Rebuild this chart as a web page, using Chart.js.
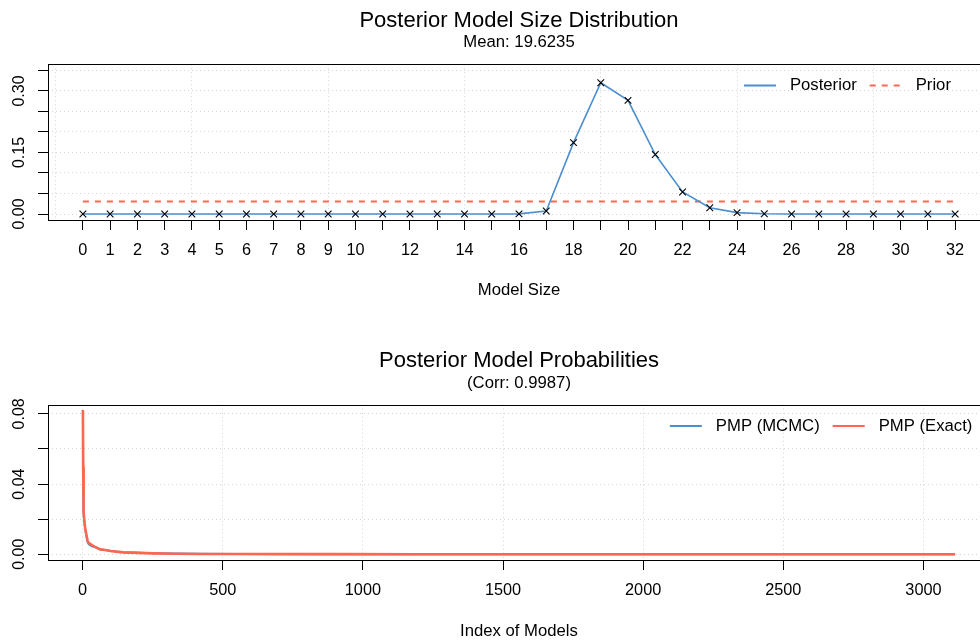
<!DOCTYPE html>
<html><head><meta charset="utf-8">
<script src="https://cdn.jsdelivr.net/npm/chart.js@4"></script>
<style>
html,body{margin:0;padding:0;background:#fff;overflow:hidden;width:980px;height:641px;}
#c1{position:absolute;left:0;top:0;}
#c2{position:absolute;left:0;top:320px;}
</style></head><body>
<canvas id="c1" width="1000" height="320"></canvas>
<canvas id="c2" width="1000" height="321"></canvas>
<script>
// ---------- data: model size distribution ----------
const modelSizes = [0,1,2,3,4,5,6,7,8,9,10,11,12,13,14,15,16,17,18,19,20,21,22,23,24,25,26,27,28,29,30,31,32];
const posteriorSize = [0,0,0,0,0,0,0,0,0,0,0,0,0,0,0,0,0.0003,0.0073,0.174,0.320,0.277,0.145,0.0537,0.0154,0.0033,0.0007,0.0001,0,0,0,0,0,0];
const priorSize = [0.0303,0.0303,0.0303,0.0303,0.0303,0.0303,0.0303,0.0303,0.0303,0.0303,0.0303,0.0303,0.0303,0.0303,0.0303,0.0303,0.0303,0.0303,0.0303,0.0303,0.0303,0.0303,0.0303,0.0303,0.0303,0.0303,0.0303,0.0303,0.0303,0.0303,0.0303,0.0303,0.0303];
const sizeTickLabels = ['0','1','2','3','4','5','6','7','8','9','10','','12','','14','','16','','18','','20','','22','','24','','26','','28','','30','','32'];
const sizeGridAt = [-1,4,9,14,19,24,29];
const sizeYTicks = [0,0.05,0.10,0.15,0.20,0.25,0.30,0.35];
const sizeYTickLabels = ['0.00','','','0.15','','','0.30',''];

// ---------- data: posterior model probabilities ----------
const modelIndex = [1,2,3,4,6,9,13,18,22,33,45,63,80,99,120,146,200,252,330,418,550,700,900,1200,1600,2000,2500,3113];
const pmpMcmc  = [0.0815,0.049,0.031,0.023,0.019,0.0145,0.0108,0.0068,0.0057,0.0046,0.0040,0.0027,0.0025,0.0020,0.0016,0.0012,0.0009,0.0006,0.0004,0.0003,0.0002,0.00012,0.00008,0.00005,0.00003,0.00002,0.00001,0.00001];
const pmpExact = [0.0822,0.050,0.032,0.024,0.0195,0.015,0.0115,0.0075,0.0065,0.0052,0.0042,0.0028,0.0024,0.0019,0.0015,0.0011,0.0008,0.0005,0.0003,0.0002,0.00015,0.0001,0.00007,0.00005,0.00003,0.00002,0.00001,0.00001];
const indexTicks = [0,500,1000,1500,2000,2500,3000];
const indexTickLabels = ['0','500','1000','1500','2000','2500','3000'];
const pmpYTicks = [0,0.02,0.04,0.06,0.08];
const pmpYTickLabels = ['0.00','','0.04','','0.08'];

const BLUE = '#4B8FD0';
const RED = '#FF6650';
const GRID = '#D3D3D3';

Chart.defaults.font.family = '"Liberation Sans", Arial, sans-serif';
Chart.defaults.color = '#000';

const boxPlugin = {
  id: 'rbox',
  afterDatasetsDraw(chart) {
    const {ctx, chartArea: a} = chart;
    ctx.save();
    ctx.strokeStyle = '#000';
    ctx.lineWidth = 1;
    ctx.setLineDash([]);
    const l = Math.round(a.left) + 0.5, t = Math.round(a.top) + 0.5;
    ctx.strokeRect(l, t, Math.round(a.right) - Math.round(a.left), Math.round(a.bottom) - Math.round(a.top));
    ctx.restore();
  }
};

const legendPlugin = {
  id: 'rlegend',
  afterDraw(chart, args, o) {
    const {ctx, chartArea: a} = chart;
    const ds = chart.data.datasets;
    ctx.save();
    ctx.font = o.font;
    const col = Math.max(...ds.map(d => ctx.measureText(d.label).width));
    const itemW = o.lineLen + o.gap + col;
    const total = ds.length * itemW + (ds.length - 1) * o.spacing;
    let x = a.right - o.rightInset - total;
    const y = a.top + o.dy;
    ds.forEach(d => {
      ctx.beginPath();
      ctx.strokeStyle = d.borderColor;
      ctx.lineWidth = o.lineWidth;
      ctx.setLineDash(d.borderDash || []);
      ctx.moveTo(x, y);
      ctx.lineTo(x + o.lineLen, y);
      ctx.stroke();
      ctx.setLineDash([]);
      ctx.fillStyle = '#000';
      ctx.textBaseline = 'middle';
      ctx.textAlign = 'left';
      ctx.fillText(d.label, x + o.lineLen + o.gap, y);
      x += itemW + o.spacing;
    });
    ctx.restore();
  }
};

const legendOpts = {font: '16.7px "Liberation Sans", Arial, sans-serif', lineLen: 32, gap: 14, spacing: 13, rightInset: 7.5, dy: 21.2, lineWidth: 2};

// ---------- top chart ----------
new Chart(document.getElementById('c1'), {
  type: 'line',
  data: {
    datasets: [
      {
        label: 'Posterior',
        data: modelSizes.map((s, i) => ({x: s, y: posteriorSize[i]})),
        borderColor: BLUE, backgroundColor: BLUE, borderWidth: 1.6,
        pointStyle: 'crossRot', pointRadius: 4.7, pointBorderColor: '#000', pointBackgroundColor: '#000', pointBorderWidth: 1.1,
        tension: 0, xAxisID: 'x', yAxisID: 'y'
      },
      {
        label: 'Prior',
        data: modelSizes.map((s, i) => ({x: s, y: priorSize[i]})),
        borderColor: RED, backgroundColor: RED, borderWidth: 2, borderDash: [6, 6],
        pointRadius: 0, tension: 0, xAxisID: 'x', yAxisID: 'y'
      }
    ]
  },
  options: {
    responsive: false, animation: false, devicePixelRatio: 1,
    layout: {padding: {left: 0, right: 10, top: 0, bottom: 0}, autoPadding: false},
    plugins: {
      legend: {display: false}, tooltip: {enabled: false},
      title: {display: true, text: 'Posterior Model Size Distribution', fullSize: false, color: '#000',
        font: {size: 22, weight: 'normal', lineHeight: 1}, padding: {top: 9.8, bottom: 2}},
      subtitle: {display: true, text: 'Mean: 19.6235', fullSize: false, color: '#000',
        font: {size: 16.7, lineHeight: 1}, padding: {top: 0, bottom: 13.8}},
      rlegend: legendOpts
    },
    scales: {
      x: {
        type: 'linear', position: 'bottom', min: -1.28, max: 33.28,
        afterBuildTicks: s => { s.ticks = modelSizes.map(v => ({value: v})); },
        afterFit: s => { s.height = 100; },
        ticks: {autoSkip: false, minRotation: 0, maxRotation: 0, padding: 10.5, font: {size: 16.3}, color: '#000',
          callback: (v, i) => sizeTickLabels[i]},
        grid: {drawOnChartArea: false, drawTicks: true, tickLength: 10, tickColor: '#000', tickWidth: 1},
        border: {display: false},
        title: {display: true, text: 'Model Size', font: {size: 16.7}, color: '#000', padding: {top: 0, bottom: 19.5}}
      },
      xg: {
        type: 'linear', position: 'bottom', min: -1.28, max: 33.28,
        afterBuildTicks: s => { s.ticks = sizeGridAt.map(v => ({value: v})); },
        afterFit: s => { s.height = 0; },
        ticks: {display: false, autoSkip: false},
        grid: {color: GRID, lineWidth: 1, drawTicks: false},
        border: {display: false, dash: [1, 3]}
      },
      y: {
        type: 'linear', position: 'left', min: -0.0146, max: 0.365,
        afterBuildTicks: s => { s.ticks = sizeYTicks.map(v => ({value: v})); },
        afterFit: s => { s.width = 48; },
        ticks: {autoSkip: false, minRotation: 90, maxRotation: 90, crossAlign: 'center', padding: 2.5, font: {size: 16}, color: '#000',
          callback: (v, i) => sizeYTickLabels[i]},
        grid: {color: GRID, lineWidth: 1, tickLength: 10, tickColor: '#000', tickWidth: 1},
        border: {display: false, dash: [1, 3]}
      }
    }
  },
  plugins: [boxPlugin, legendPlugin]
});

// ---------- bottom chart ----------
new Chart(document.getElementById('c2'), {
  type: 'line',
  data: {
    datasets: [
      {
        label: 'PMP (MCMC)',
        data: modelIndex.map((m, i) => ({x: m, y: pmpMcmc[i]})),
        borderColor: BLUE, backgroundColor: BLUE, borderWidth: 2,
        pointRadius: 0, tension: 0, order: 1
      },
      {
        label: 'PMP (Exact)',
        data: modelIndex.map((m, i) => ({x: m, y: pmpExact[i]})),
        borderColor: RED, backgroundColor: RED, borderWidth: 2.6,
        pointRadius: 0, tension: 0, order: 0
      }
    ]
  },
  options: {
    responsive: false, animation: false, devicePixelRatio: 1,
    layout: {padding: {left: 0, right: 10, top: 0, bottom: 0}, autoPadding: false},
    plugins: {
      legend: {display: false}, tooltip: {enabled: false},
      title: {display: true, text: 'Posterior Model Probabilities', fullSize: false, color: '#000',
        font: {size: 22, weight: 'normal', lineHeight: 1}, padding: {top: 30, bottom: 2}},
      subtitle: {display: true, text: '(Corr: 0.9987)', fullSize: false, color: '#000',
        font: {size: 16.7, lineHeight: 1}, padding: {top: 1.5, bottom: 12.5}},
      rlegend: legendOpts
    },
    scales: {
      x: {
        type: 'linear', position: 'bottom', min: -123.5, max: 3237.5,
        afterBuildTicks: s => { s.ticks = indexTicks.map(v => ({value: v})); },
        afterFit: s => { s.height = 81; },
        ticks: {autoSkip: false, minRotation: 0, maxRotation: 0, padding: 10.5, font: {size: 16.3}, color: '#000',
          callback: (v, i) => indexTickLabels[i]},
        grid: {color: GRID, lineWidth: 1, tickLength: 10, tickColor: '#000', tickWidth: 1},
        border: {display: false, dash: [1, 3]},
        title: {display: true, text: 'Index of Models', font: {size: 16.7}, color: '#000', padding: {top: 0, bottom: 0}}
      },
      y: {
        type: 'linear', position: 'left', min: -0.00325, max: 0.0852,
        afterBuildTicks: s => { s.ticks = pmpYTicks.map(v => ({value: v})); },
        afterFit: s => { s.width = 48; },
        ticks: {autoSkip: false, minRotation: 90, maxRotation: 90, crossAlign: 'center', padding: 2.5, font: {size: 16}, color: '#000',
          callback: (v, i) => pmpYTickLabels[i]},
        grid: {color: GRID, lineWidth: 1, tickLength: 10, tickColor: '#000', tickWidth: 1},
        border: {display: false, dash: [1, 3]}
      }
    }
  },
  plugins: [boxPlugin, legendPlugin]
});
</script>
</body></html>
